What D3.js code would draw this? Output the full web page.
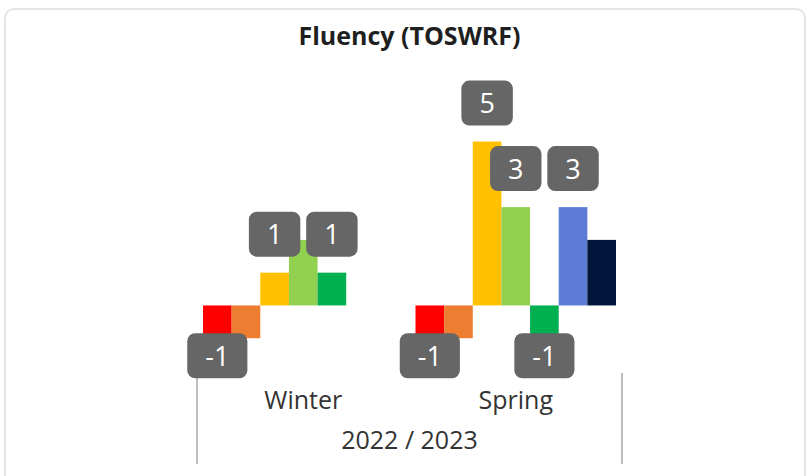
<!DOCTYPE html>
<meta charset="utf-8">
<style>
body {
  margin: 0;
  background: #fff;
  font-family: "Open Sans", sans-serif;
}

.card {
  fill: #fff;
  stroke: #e4e4e4;
  stroke-width: 2;
}

.title {
  font-size: 25px;
  font-weight: bold;
  fill: #1f1f1f;
}

.axis-label {
  font-size: 25px;
  fill: #333;
}

.group-line {
  stroke: #a8a8a8;
  stroke-width: 1.5;
}

.dl rect {
  fill: #666;
}

.dl text {
  fill: #fff;
  font-size: 27px;
}
</style>
<body>
<script src="https://cdn.jsdelivr.net/npm/d3@7/dist/d3.min.js"></script>
<script>

var width = 809,
    height = 476;

// categories and the year that groups them
var categories = ["Winter", "Spring"];
var yearLabel = "2022 / 2023";

// one entry per series, values are [Winter, Spring]
var seriesNames = ["red", "orange", "yellow", "lightgreen", "green", "blue", "navy"];
var seriesColors = ["#ff0000", "#ed7d31", "#ffc000", "#92d050", "#00b050", "#5d7cd6", "#001539"];
var redValues = [-1, -1];
var orangeValues = [-1, -1];
var yellowValues = [1, 5];
var lightgreenValues = [2, 3];
var greenValues = [1, -1];
var blueValues = [null, 3];
var navyValues = [null, 2];

var seriesValues = [redValues, orangeValues, yellowValues, lightgreenValues,
                    greenValues, blueValues, navyValues];

var svg = d3.select("body").append("svg")
    .attr("width", width)
    .attr("height", height);

svg.append("rect")
    .attr("class", "card")
    .attr("x", 5)
    .attr("y", 9)
    .attr("width", 800)
    .attr("height", 490)
    .attr("rx", 9);

svg.append("text")
    .attr("class", "title")
    .attr("x", width / 2 + 5)
    .attr("y", 45)
    .attr("text-anchor", "middle")
    .text("Fluency (TOSWRF)");

var x0 = d3.scaleBand()
    .domain(categories)
    .range([197, 622]);

var x1 = d3.scaleBand()
    .domain(seriesNames)
    .range([6, x0.bandwidth() - 6]);

var y = d3.scaleLinear()
    .domain([-2, 7])
    .range([371, 76]);

// flatten to points
var points = [];
categories.forEach(function(c, ci) {
  seriesNames.forEach(function(s, si) {
    var v = seriesValues[si][ci];
    if (v == null) return;
    points.push({cat: c, series: s, color: seriesColors[si], value: v});
  });
});

svg.append("g").selectAll("rect")
    .data(points)
  .enter().append("rect")
    .attr("x", function(d) { return x0(d.cat) + x1(d.series); })
    .attr("y", function(d) { return y(Math.max(0, d.value)); })
    .attr("width", x1.bandwidth())
    .attr("height", function(d) { return Math.abs(y(d.value) - y(0)); })
    .attr("fill", function(d) { return d.color; });

// category axis (grouped)
svg.append("g").selectAll("text")
    .data(categories)
  .enter().append("text")
    .attr("class", "axis-label")
    .attr("x", function(d) { return x0(d) + x0.bandwidth() / 2; })
    .attr("y", 409)
    .attr("text-anchor", "middle")
    .text(function(d) { return d; });

svg.append("text")
    .attr("class", "axis-label")
    .attr("x", (x0.range()[0] + x0.range()[1]) / 2)
    .attr("y", 449)
    .attr("text-anchor", "middle")
    .text(yearLabel);

svg.append("g").selectAll("line")
    .data(x0.range())
  .enter().append("line")
    .attr("class", "group-line")
    .attr("x1", function(d) { return d; })
    .attr("x2", function(d) { return d; })
    .attr("y1", 373)
    .attr("y2", 464);

// data labels, drop the ones that overlap an earlier one
var boxH = 45, gap = 16, pad = 18;
var placed = [];
var labels = svg.append("g");

points.forEach(function(d) {
  var g = labels.append("g").attr("class", "dl");
  var t = g.append("text")
      .attr("text-anchor", "middle")
      .text(d.value);
  var tw = t.node().getComputedTextLength();
  var w = tw + pad * 2;
  var cx = x0(d.cat) + x1(d.series) + x1.bandwidth() / 2;
  var top = d.value >= 0 ? y(d.value) - gap - boxH : y(d.value) - 5;
  var box = {x0: cx - w / 2, x1: cx + w / 2, y0: top, y1: top + boxH};

  var hit = placed.some(function(b) {
    return box.x0 < b.x1 && box.x1 > b.x0 && box.y0 < b.y1 && box.y1 > b.y0;
  });
  if (hit) { g.remove(); return; }
  placed.push(box);

  g.insert("rect", "text")
      .attr("x", box.x0)
      .attr("y", box.y0)
      .attr("width", w)
      .attr("height", boxH)
      .attr("rx", 8);
  t.attr("x", cx).attr("y", top + boxH / 2 + 10);
});

</script>
